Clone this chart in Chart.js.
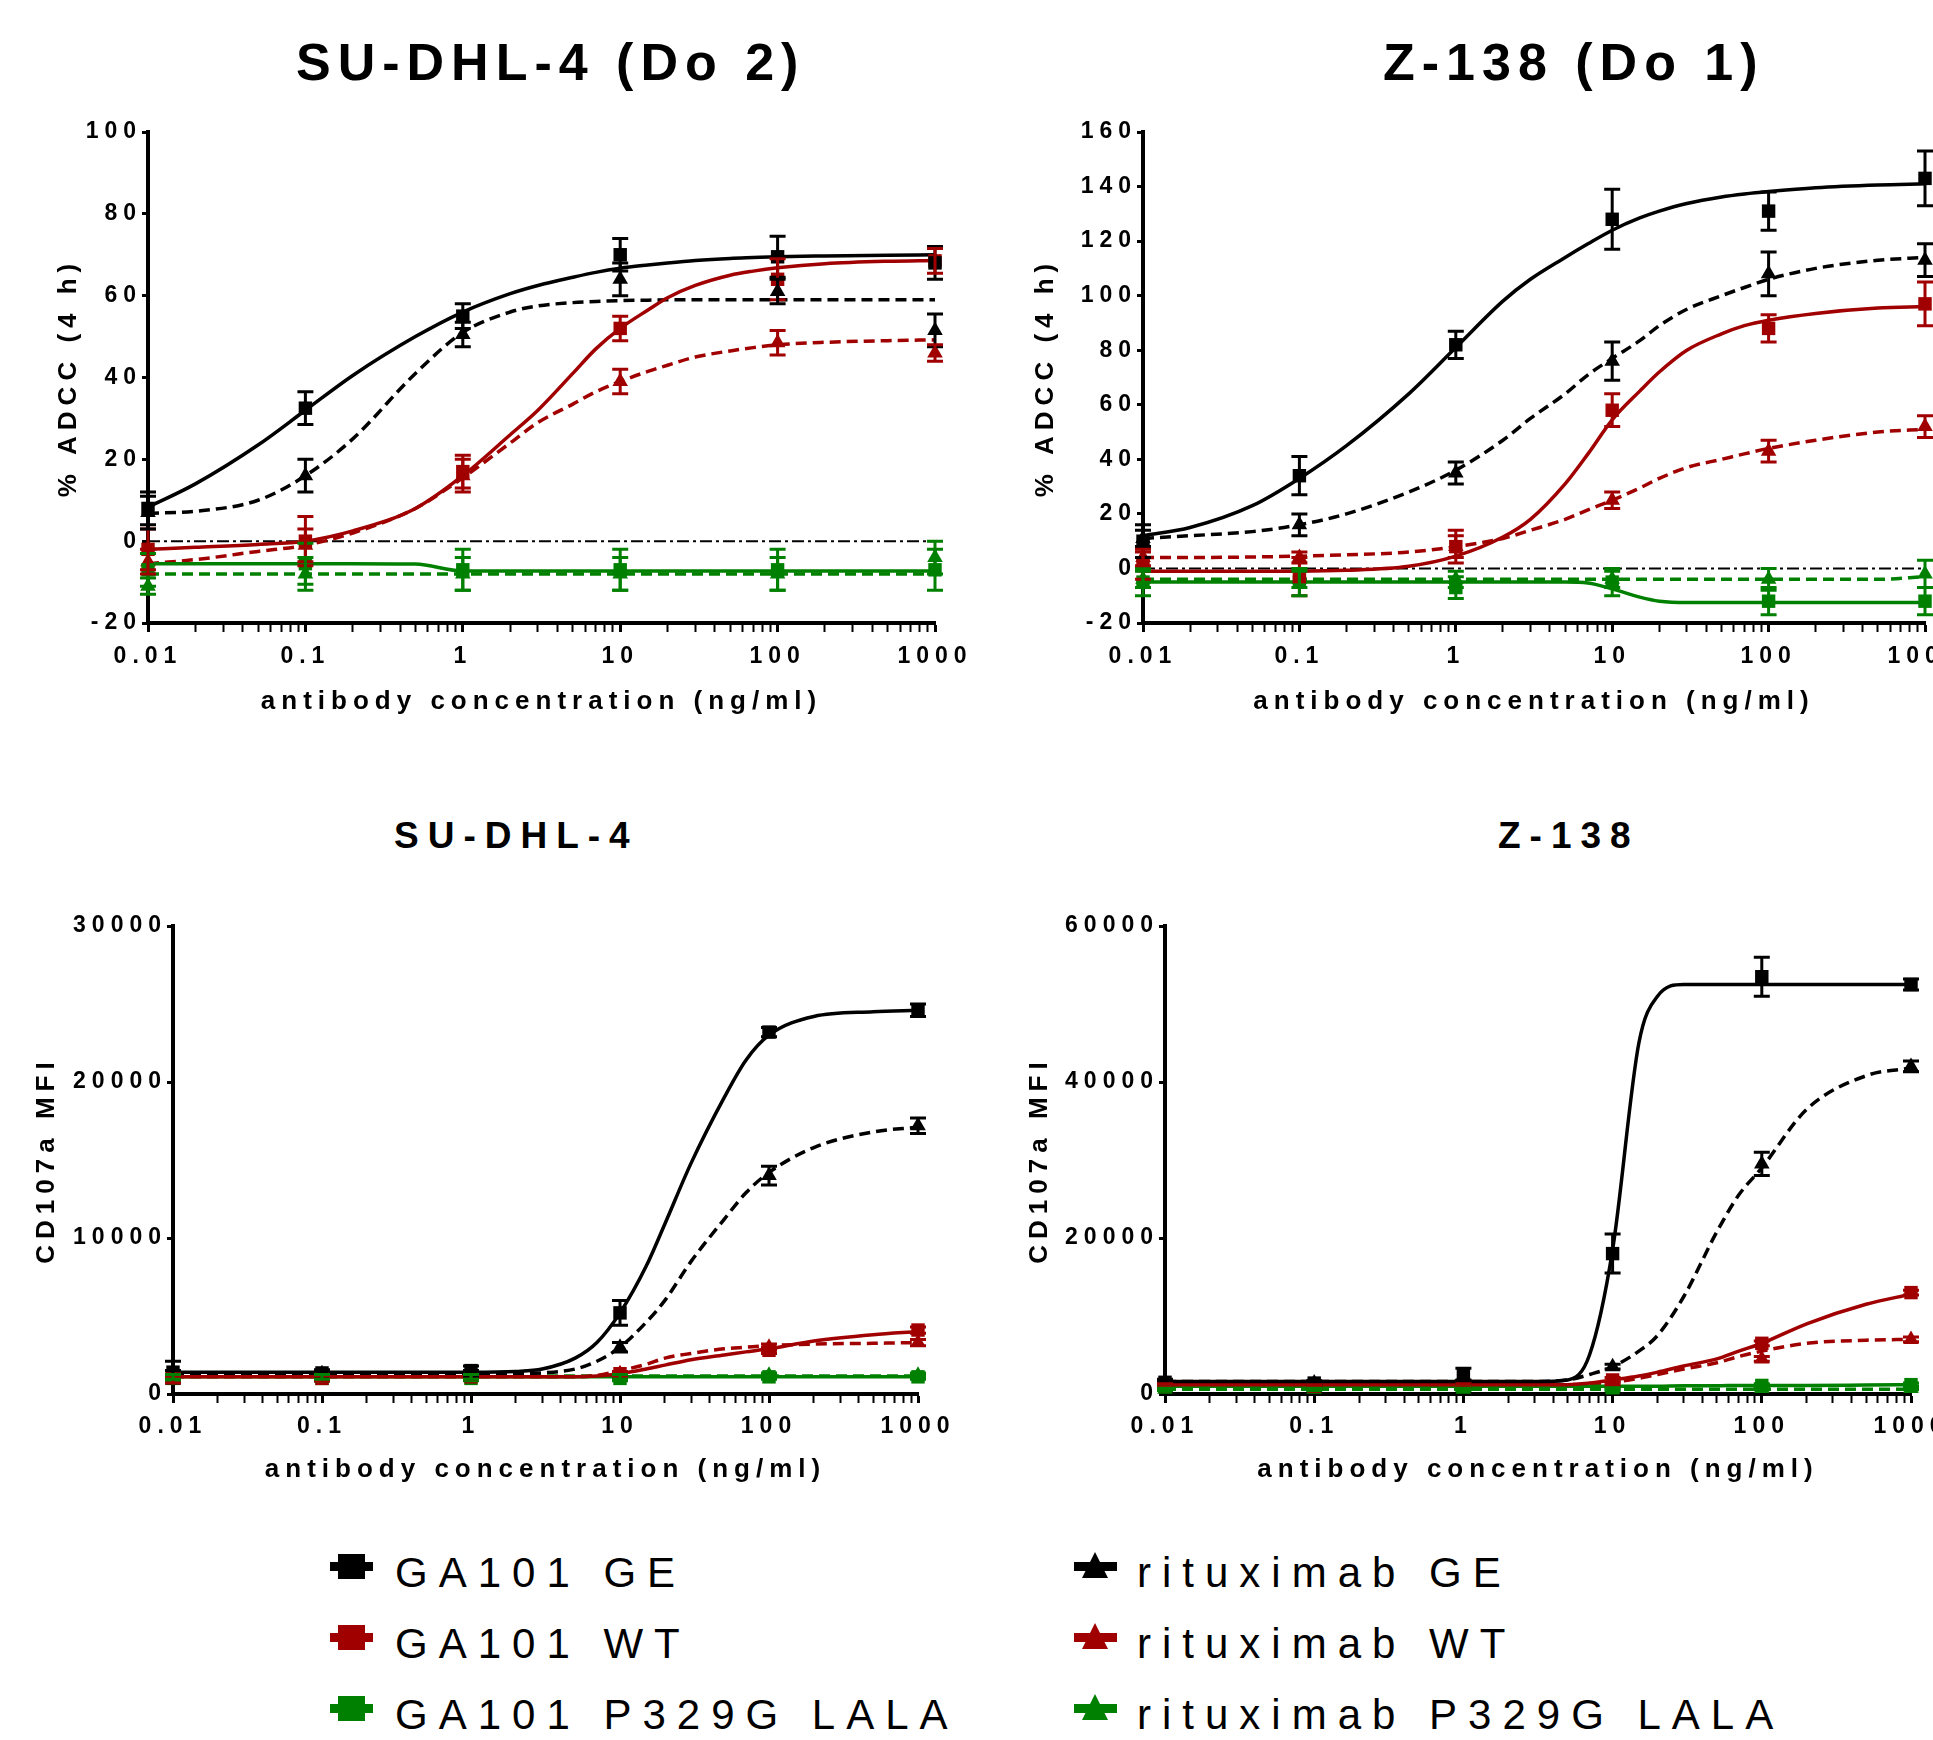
<!DOCTYPE html>
<html>
<head>
<meta charset="utf-8">
<script src="https://cdn.jsdelivr.net/npm/chart.js@4.4.1/dist/chart.umd.min.js"></script>
<style>
html, body { margin: 0; padding: 0; background: #fff; overflow: hidden; }
body { width: 1933px; height: 1740px; position: relative; font-family: 'Liberation Sans', Arial, sans-serif; }
canvas { position: absolute; }
.title { position: absolute; font-weight: bold; line-height: 1; white-space: nowrap; color: #000; }
.leg { position: absolute; font-size: 42px; letter-spacing: 11px; line-height: 1; white-space: nowrap; color: #000; }
.mk { position: absolute; }
</style>
</head>
<body>
<div class="title" style="left:296px;top:36px;font-size:52px;letter-spacing:7px">SU-DHL-4 (Do 2)</div>
<div class="title" style="left:1383px;top:36px;font-size:52px;letter-spacing:7px">Z-138 (Do 1)</div>
<div class="title" style="left:394px;top:817px;font-size:37px;letter-spacing:9px">SU-DHL-4</div>
<div class="title" style="left:1498px;top:817px;font-size:37px;letter-spacing:9px">Z-138</div>

<canvas id="adccSu" width="1000" height="725" style="left:0px;top:0px"></canvas>
<canvas id="adccZ" width="995" height="725" style="left:1000px;top:0px"></canvas>
<canvas id="cdSu" width="990" height="713" style="left:0px;top:780px"></canvas>
<canvas id="cdZ" width="985" height="713" style="left:1000px;top:780px"></canvas>

<div id="legend"></div>

<script>
// ---- data ----
const xPoints = [0.01, 0.1, 1, 10, 100, 1000]
const xTickLabels = ['0.01', '0.1', '1', '10', '100', '1000']
const xFit = [0.01, 0.02, 0.05, 0.1, 0.2, 0.5, 1, 2, 3, 5, 7, 10, 15, 20, 30, 50, 70, 100, 200, 500, 1000]

const seriesNames = ['GA101 GE', 'GA101 WT', 'GA101 P329G LALA', 'rituximab GE', 'rituximab WT', 'rituximab P329G LALA']
const seriesColors = ['#000000', '#a00000', '#008000', '#000000', '#a00000', '#008000']

// SU-DHL-4 (Do 2), % ADCC
const adccSuY = [-20, 100, 20]
const adccSuMeans = [
    [8, 32.5, 55, 70, 69.5, 68],
    [-2, 0, 17, 52, 64, 68.5],
    [-7, -5.5, -7, -7, -7, -7],
    [7, 16, 50.5, 64, 61, 51.5],
    [-5, -1, 16, 39, 48.5, 46],
    [-11, -8, -8, -8, -8, -4]
]
const adccSuErrors = [
    [4, 4, 3, 4, 5, 4],
    [5, 6, 4, 3, 5, 3],
    [4, 5, 5, 5, 5, 5],
    [4, 4, 3, 4, 3, 4],
    [3, 4, 4, 3, 3, 2],
    [2, 4, 4, 4, 4, 4]
]
const adccSuFit = [
    [8.3, 14, 23.5, 32, 40.5, 50, 56, 60.5, 62.5, 64.5, 65.7, 66.7, 67.5, 68, 68.6, 69.1, 69.3, 69.5, 69.7, 69.9, 70],
    [-2, -1.5, -0.8, 0, 2.5, 8, 16, 26, 32, 41, 47, 52, 56.5, 59.5, 62.5, 65, 66, 66.8, 67.8, 68.4, 68.6],
    [-5.5, -5.5, -5.5, -5.5, -5.5, -5.6, -7.3, -7.3, -7.3, -7.3, -7.3, -7.3, -7.3, -7.3, -7.3, -7.3, -7.3, -7.3, -7.3, -7.3, -7.3],
    [6.8, 7.3, 10, 16, 25, 41, 51, 56, 57.5, 58.3, 58.6, 58.8, 58.9, 59, 59, 59, 59, 59, 59, 59, 59],
    [-5.5, -4.5, -2.5, -1, 2, 8, 15.5, 24, 29, 33.5, 36.5, 39, 41.5, 43, 45, 46.5, 47.3, 48, 48.6, 49, 49.2],
    [-8, -8, -8, -8, -8, -8, -8, -8, -8, -8, -8, -8, -8, -8, -8, -8, -8, -8, -8, -8, -8]
]

// Z-138 (Do 1), % ADCC
const adccZY = [-20, 160, 20]
const adccZMeans = [
    [10, 34, 82, 128, 131, 143],
    [1, -3, 8, 58, 88, 97],
    [-5, -5, -7, -5, -12, -12],
    [11, 16, 35, 76, 108, 113],
    [4, 4, 8, 25, 43, 52],
    [-4, -4, -4, -4, -4, -2]
]
const adccZErrors = [
    [6, 7, 5, 11, 7, 10],
    [5, 7, 6, 6, 5, 8],
    [5, 5, 4, 5, 5, 5],
    [3, 4, 4, 7, 8, 6],
    [3, 2, 4, 3, 4, 4],
    [3, 3, 3, 3, 4, 5]
]
const adccZFit = [
    [12, 15, 23, 33, 45, 64, 81, 98, 106, 114, 119, 124, 128.5, 131, 133.8, 136.2, 137.3, 138.2, 139.6, 140.6, 141],
    [-1, -1, -1, -1, -0.7, 0.8, 4.5, 11.5, 18, 31, 42, 54.5, 65, 72, 80, 86, 89, 91, 93.5, 95.5, 96],
    [-5, -5, -5, -5, -5, -5, -5, -5, -5, -5, -5.3, -7.5, -10.5, -12, -12.5, -12.5, -12.5, -12.5, -12.5, -12.5, -12.5],
    [11, 12, 13.5, 16, 20, 28, 36, 47, 55, 64, 71, 77, 83.5, 89, 95, 100, 103, 106, 110, 113, 114],
    [4, 4, 4.2, 4.5, 5, 6, 8, 11, 14, 18, 21.5, 25, 29.5, 33, 37, 40, 42, 44, 47, 50, 51],
    [-4, -4, -4, -4, -4, -4, -4, -4, -4, -4, -4, -4, -4, -4, -4, -4, -4, -4, -4, -4, -3]
]

// SU-DHL-4, CD107a MFI
const cdSuY = [0, 30000, 10000]
const cdSuMeans = [
    [1400, 1350, 1500, 5200, 23200, 24600],
    [1100, 1000, 1100, 1300, 2800, 4100],
    [1000, 1000, 1000, 1000, 1100, 1100],
    [1300, 1300, 1300, 3000, 14000, 17200],
    [900, 1000, 1100, 1300, 3000, 3300],
    [1100, 1100, 1100, 1100, 1200, 1200]
]
const cdSuErrors = [
    [700, 200, 300, 800, 300, 400],
    [200, 150, 150, 150, 200, 200],
    [150, 150, 150, 150, 150, 150],
    [200, 200, 200, 300, 600, 500],
    [200, 150, 150, 150, 200, 200],
    [150, 150, 150, 150, 150, 150]
]
const cdSuFit = [
    [1400, 1400, 1400, 1400, 1400, 1400, 1400, 1450, 1600, 2300, 3300, 5200, 8200, 10900, 14800, 19000, 21400, 23000, 24200, 24500, 24600],
    [1100, 1100, 1100, 1100, 1100, 1100, 1100, 1100, 1100, 1100, 1150, 1300, 1600, 1850, 2200, 2500, 2700, 2900, 3400, 3800, 4000],
    [1100, 1100, 1100, 1100, 1100, 1100, 1100, 1100, 1100, 1100, 1100, 1100, 1100, 1100, 1100, 1100, 1100, 1100, 1100, 1100, 1100],
    [1300, 1300, 1300, 1300, 1300, 1300, 1300, 1300, 1350, 1600, 2100, 3000, 4600, 6000, 8500, 11200, 12900, 14200, 15800, 16800, 17100],
    [1100, 1100, 1100, 1100, 1100, 1100, 1100, 1100, 1100, 1100, 1200, 1500, 1900, 2300, 2600, 2900, 3000, 3100, 3200, 3250, 3300],
    [1150, 1150, 1150, 1150, 1150, 1150, 1150, 1150, 1150, 1150, 1150, 1150, 1150, 1150, 1150, 1150, 1150, 1150, 1150, 1150, 1150]
]

// Z-138, CD107a MFI
const cdZY = [0, 60000, 20000]
const cdZMeans = [
    [1500, 1400, 2500, 18000, 53500, 52500],
    [1100, 1000, 1200, 1800, 6500, 13000],
    [1000, 1000, 1000, 800, 1100, 1200],
    [1500, 1400, 1600, 3500, 29500, 42000],
    [1100, 1000, 1100, 1400, 4500, 7000],
    [600, 600, 600, 600, 700, 700]
]
const cdZErrors = [
    [400, 300, 800, 2500, 2500, 700],
    [200, 200, 200, 300, 300, 300],
    [200, 200, 200, 200, 200, 200],
    [200, 200, 200, 300, 1500, 700],
    [200, 200, 200, 200, 300, 300],
    [150, 150, 150, 150, 150, 150]
]
const cdZFit = [
    [1600, 1600, 1600, 1600, 1600, 1600, 1600, 1600, 1600, 1800, 5000, 18500, 45000, 51000, 52500, 52500, 52500, 52500, 52500, 52500, 52500],
    [1200, 1200, 1200, 1200, 1200, 1200, 1200, 1200, 1200, 1200, 1400, 1800, 2300, 2800, 3600, 4500, 5500, 6500, 9000, 11500, 12800],
    [1000, 1000, 1000, 1000, 1000, 1000, 1000, 1000, 1000, 1000, 1000, 1000, 1000, 1000, 1050, 1050, 1100, 1100, 1100, 1150, 1200],
    [1600, 1600, 1600, 1600, 1600, 1600, 1600, 1600, 1600, 1800, 2500, 3500, 5500, 7500, 12500, 20800, 25500, 29000, 36500, 40800, 41800],
    [1200, 1200, 1200, 1200, 1200, 1200, 1200, 1200, 1200, 1200, 1300, 1500, 2000, 2500, 3200, 4000, 4800, 5500, 6500, 6900, 7000],
    [600, 600, 600, 600, 600, 600, 600, 600, 600, 600, 600, 600, 600, 600, 600, 600, 600, 600, 600, 600, 600]
]

// ---- chart setup ----
Chart.defaults.font.family = "'Liberation Sans', Arial, sans-serif"
Chart.defaults.color = '#000'

// wide spaced lettering like the original figure
Chart.register({
    id: 'spacing',
    beforeUpdate(chart) { chart.ctx.letterSpacing = '6px' },
    beforeDraw(chart) { chart.ctx.letterSpacing = '6px' }
})

const errorBars = {
    id: 'errorBars',
    afterDatasetsDraw(chart) {
        const ctx = chart.ctx
        const yScale = chart.scales.y
        chart.data.datasets.forEach((ds, i) => {
            if (!ds.errors) return
            const meta = chart.getDatasetMeta(i)
            ctx.save()
            ctx.strokeStyle = ds.borderColor
            ctx.lineWidth = 3
            meta.data.forEach((pt, j) => {
                const v = ds.data[j].y
                const e = ds.errors[j]
                const yt = yScale.getPixelForValue(v + e)
                const yb = yScale.getPixelForValue(v - e)
                ctx.beginPath()
                ctx.moveTo(pt.x, yt)
                ctx.lineTo(pt.x, yb)
                ctx.moveTo(pt.x - 8, yt)
                ctx.lineTo(pt.x + 8, yt)
                ctx.moveTo(pt.x - 8, yb)
                ctx.lineTo(pt.x + 8, yb)
                ctx.stroke()
            })
            ctx.restore()
        })
    }
}

function makeChart(id, means, errors, fit, yAxis, yTitle, zeroLine, box) {
    const datasets = []
    for (let s = 0; s < 6; s++) {
        datasets.push({
            data: xPoints.map((x, i) => ({x: x, y: means[s][i]})),
            errors: errors[s],
            showLine: false,
            borderColor: seriesColors[s],
            backgroundColor: seriesColors[s],
            pointBackgroundColor: seriesColors[s],
            pointBorderWidth: 0,
            pointStyle: s < 3 ? 'rect' : 'triangle',
            pointRadius: s < 3 ? 9.5 : 9,
            clip: false
        })
    }
    for (let s = 0; s < 6; s++) {
        datasets.push({
            data: xFit.map((x, i) => ({x: x, y: fit[s][i]})),
            borderColor: seriesColors[s],
            borderWidth: 3.5,
            borderDash: s >= 3 ? [11, 6] : [],
            pointRadius: 0,
            cubicInterpolationMode: 'monotone',
            fill: false
        })
    }
    if (zeroLine) {
        datasets.push({
            data: [{x: 0.01, y: 0}, {x: 1000, y: 0}],
            borderColor: '#000',
            borderWidth: 2,
            borderDash: [12, 4, 3, 4],
            pointRadius: 0
        })
    }

    return new Chart(document.getElementById(id), {
        type: 'line',
        data: {datasets: datasets},
        options: {
            responsive: false,
            animation: false,
            layout: {padding: {left: box.padL, right: box.padR, top: box.padT, bottom: box.padB}},
            plugins: {legend: {display: false}, tooltip: {enabled: false}},
            scales: {
                x: {
                    type: 'logarithmic',
                    min: 0.01,
                    max: 1000,
                    afterBuildTicks: s => {
                        s.ticks = s.ticks.filter(t => {
                            const m = t.value / Math.pow(10, Math.floor(Math.log10(t.value) + 1e-9))
                            return Math.abs(m - Math.round(m)) < 1e-6
                        })
                    },
                    afterFit: s => { s.height = box.xH },
                    grid: {
                        display: true,
                        drawOnChartArea: false,
                        drawTicks: true,
                        tickLength: 9,
                        tickWidth: c => (c.tick && c.tick.major) ? 3 : 2,
                        tickColor: '#000'
                    },
                    border: {display: true, color: '#000', width: 4},
                    ticks: {
                        autoSkip: false,
                        maxRotation: 0,
                        padding: box.tp,
                        color: '#000',
                        font: {size: 23, weight: 'bold'},
                        callback: v => {
                            const i = xPoints.findIndex(p => Math.abs(p - v) < p * 1e-6)
                            return i >= 0 ? xTickLabels[i] : ''
                        }
                    },
                    title: {
                        display: true,
                        text: 'antibody concentration (ng/ml)',
                        color: '#000',
                        font: {size: 26, weight: 'bold'},
                        padding: 0
                    }
                },
                y: {
                    min: yAxis[0],
                    max: yAxis[1],
                    afterFit: s => { s.width = box.yW },
                    grid: {
                        display: true,
                        drawOnChartArea: false,
                        drawTicks: true,
                        tickLength: 6,
                        tickWidth: 3,
                        tickColor: '#000'
                    },
                    border: {display: true, color: '#000', width: 4},
                    ticks: {
                        stepSize: yAxis[2],
                        padding: 0,
                        color: '#000',
                        font: {size: 23, weight: 'bold'},
                        callback: v => String(v)
                    },
                    title: {
                        display: true,
                        text: yTitle,
                        color: '#000',
                        font: {size: 26, weight: 'bold'},
                        padding: 0
                    }
                }
            }
        },
        plugins: [errorBars]
    })
}

makeChart('adccSu', adccSuMeans, adccSuErrors, adccSuFit, adccSuY, '% ADCC (4 h)', true,
    {padL: 53, padR: 65, padT: 132, padB: 8, yW: 95, xH: 94, tp: 11})
makeChart('adccZ', adccZMeans, adccZErrors, adccZFit, adccZY, '% ADCC (4 h)', true,
    {padL: 30, padR: 70, padT: 132, padB: 8, yW: 113, xH: 94, tp: 11})
makeChart('cdSu', cdSuMeans, cdSuErrors, cdSuFit, cdSuY, 'CD107a MFI', false,
    {padL: 31, padR: 72, padT: 146, padB: 8, yW: 142, xH: 91, tp: 10})
makeChart('cdZ', cdZMeans, cdZErrors, cdZFit, cdZY, 'CD107a MFI', false,
    {padL: 24, padR: 74, padT: 146, padB: 8, yW: 141, xH: 91, tp: 10})

// ---- legend ----
const legendEl = document.getElementById('legend')
seriesNames.forEach((name, s) => {
    const col = s < 3 ? 0 : 1
    const row = s % 3
    const cx = [351, 1095][col]
    const cy = 1566 + row * 71
    const line = document.createElement('div')
    line.className = 'mk'
    line.style.cssText = `left:${cx - 21}px;top:${cy - 4}px;width:43px;height:9px;background:${seriesColors[s]}`
    legendEl.appendChild(line)
    const shape = document.createElement('div')
    shape.className = 'mk'
    if (s < 3) {
        shape.style.cssText = `left:${cx - 13}px;top:${cy - 12}px;width:27px;height:25px;background:${seriesColors[s]}`
    } else {
        shape.style.cssText = `left:${cx - 13}px;top:${cy - 14}px;width:26px;height:26px;background:${seriesColors[s]};clip-path:polygon(50% 0,100% 100%,0 100%)`
    }
    legendEl.appendChild(shape)
    const label = document.createElement('div')
    label.className = 'leg'
    label.style.left = [395, 1137][col] + 'px'
    label.style.top = (1552 + row * 71) + 'px'
    label.textContent = name
    legendEl.appendChild(label)
})
</script>
</body>
</html>
